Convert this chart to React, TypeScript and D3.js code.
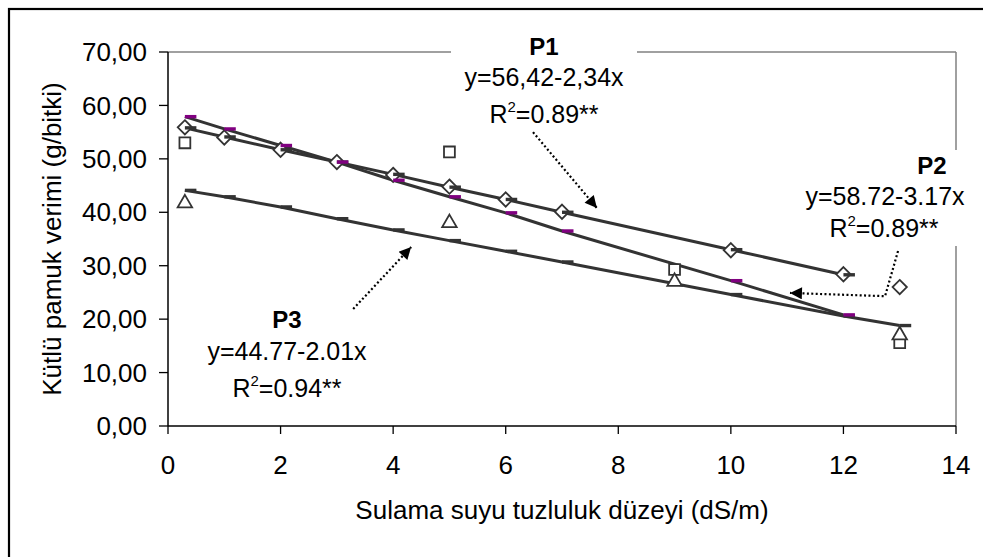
import React from "react";
import * as d3 from "d3";

// ---- data ----
const xTicks = [0, 2, 4, 6, 8, 10, 12, 14];
const yTicks = [0, 10, 20, 30, 40, 50, 60, 70];

// observed points
const p1X = [0.3, 1, 2, 3, 4, 5, 6, 7, 10, 12, 13];
const p1Obs = [55.9, 54.0, 51.7, 49.4, 47.0, 44.8, 42.4, 40.1, 32.9, 28.4, 26.0];
const p2X = [0.3, 5, 9, 13];
const p2Obs = [53.0, 51.3, 29.3, 15.6];
const p3X = [0.3, 5, 9, 13];
const p3Obs = [41.7, 38.0, 27.0, 17.0];

// regression (fitted) series with dash markers
const fitX12 = [0.3, 1, 2, 3, 4, 5, 6, 7, 10, 12];
const p1Fit = [55.8, 54.1, 51.7, 49.4, 47.1, 44.7, 42.4, 40.0, 33.0, 28.3];
const p2Fit = [57.9, 55.6, 52.5, 49.4, 46.0, 42.9, 39.9, 36.5, 27.2, 20.8];
const fitX3 = [0.3, 1, 2, 3, 4, 5, 6, 7, 10, 12, 13];
const p3Fit = [44.1, 42.9, 41.0, 38.8, 36.7, 34.7, 32.7, 30.7, 24.6, 20.6, 18.8];

const FONT = "'Liberation Sans', Arial, sans-serif";
const LINE = "#333333";

export default function App() {
  const x = d3.scaleLinear().domain([0, 14]).range([168, 956]);
  const y = d3.scaleLinear().domain([0, 70]).range([426, 52]);
  const fmt = d3.formatLocale({ decimal: ",", thousands: ".", grouping: [3], currency: ["", ""] }).format(".2f");

  const line = d3
    .line<[number, number]>()
    .x((d) => x(d[0]))
    .y((d) => y(d[1]));

  const zip = (xs: number[], ys: number[]) => xs.map((v, i) => [v, ys[i]] as [number, number]);

  const diamond = d3.symbol().type(d3.symbolDiamond2).size(130)();
  const square = d3.symbol().type(d3.symbolSquare2).size(150)();
  const triangle = d3.symbol().type(d3.symbolTriangle2).size(150)();

  const dashes = (xs: number[], ys: number[], color: string, key: string) =>
    xs.map((v, i) => (
      <rect key={key + i} x={x(v)} y={y(ys[i]) - 1.7} width={11.5} height={3.4} fill={color} />
    ));

  const arrowPath = (pts: [number, number][]) => line(pts) as string;

  return (
    <svg
      width={983}
      height={557}
      style={{ position: "absolute", left: 0, top: 0, background: "#fff" }}
      fontFamily={FONT}
    >
      <defs>
        <marker id="ah" viewBox="0 0 10 10" refX="10" refY="5" markerWidth="16" markerHeight="12" markerUnits="userSpaceOnUse" orient="auto">
          <path d="M0,0 L10,5 L0,10 Z" fill="#000" />
        </marker>
      </defs>
      <rect x={0} y={0} width={983} height={557} fill="#fff" />
      {/* outer chart frame */}
      <rect x={9} y={9} width={1000} height={600} fill="none" stroke="#000" strokeWidth={2.2} />

      {/* plot border top/right (gray) */}
      <line x1={x(0)} x2={x(14)} y1={y(70)} y2={y(70)} stroke="#808080" strokeWidth={1.5} />
      <line x1={x(14)} x2={x(14)} y1={y(70)} y2={y(0)} stroke="#808080" strokeWidth={1.5} />

      {/* axes */}
      <line x1={x(0)} x2={x(0)} y1={y(70)} y2={y(0)} stroke="#000" strokeWidth={1.5} />
      <line x1={x(0)} x2={x(14)} y1={y(0)} y2={y(0)} stroke="#000" strokeWidth={1.5} />
      {yTicks.map((t) => (
        <g key={"yt" + t}>
          <line x1={x(0) - 9} x2={x(0)} y1={y(t)} y2={y(t)} stroke="#000" strokeWidth={1.3} />
          <text x={147} y={y(t)} dy="0.35em" textAnchor="end" fontSize={26} fill="#000">
            {fmt(t)}
          </text>
        </g>
      ))}
      {xTicks.map((t) => (
        <g key={"xt" + t}>
          <line x1={x(t)} x2={x(t)} y1={y(0)} y2={y(0) + 8} stroke="#000" strokeWidth={1.3} />
          <text x={x(t)} y={474} textAnchor="middle" fontSize={26} fill="#000">
            {t}
          </text>
        </g>
      ))}
      <text x={(x(0) + x(14)) / 2} y={519} textAnchor="middle" fontSize={26} fill="#000">
        Sulama suyu tuzluluk düzeyi (dS/m)
      </text>
      <text transform={`translate(61,${(y(0) + y(70)) / 2}) rotate(-90)`} textAnchor="middle" fontSize={26} fill="#000">
        Kütlü pamuk verimi (g/bitki)
      </text>

      {/* fitted lines */}
      <path d={line(zip(fitX12, p1Fit)) as string} fill="none" stroke={LINE} strokeWidth={3} />
      <path d={line(zip(fitX12, p2Fit)) as string} fill="none" stroke={LINE} strokeWidth={3} />
      <path d={line(zip(fitX3, p3Fit)) as string} fill="none" stroke={LINE} strokeWidth={3} />

      {/* observed markers */}
      {p1X.map((v, i) => (
        <path key={"d" + i} d={diamond as string} transform={`translate(${x(v)},${y(p1Obs[i])})`} fill="#fff" stroke={LINE} strokeWidth={1.8} />
      ))}
      {p2X.map((v, i) => (
        <path key={"s" + i} d={square as string} transform={`translate(${x(v)},${y(p2Obs[i])})`} fill="#fff" stroke={LINE} strokeWidth={1.8} />
      ))}
      {p3X.map((v, i) => (
        <path key={"t" + i} d={triangle as string} transform={`translate(${x(v)},${y(p3Obs[i])})`} fill="#fff" stroke={LINE} strokeWidth={1.8} />
      ))}

      {/* dash markers of the fitted series */}
      {dashes(fitX3, p3Fit, LINE, "c")}
      {dashes(fitX12, p1Fit, LINE, "a")}
      {dashes(fitX12, p2Fit, "#800080", "b")}

      {/* P1 label */}
      <rect x={451} y={40} width={186} height={90} fill="#fff" />
      <text x={544} y={55} textAnchor="middle" fontSize={24} fontWeight="bold">P1</text>
      <text x={544} y={86} textAnchor="middle" fontSize={25}>y=56,42-2,34x</text>
      <text x={544} y={123} textAnchor="middle" fontSize={25}>
        R<tspan fontSize={15} dy={-11}>2</tspan><tspan dy={11}>=0.89**</tspan>
      </text>

      {/* P2 label */}
      <rect x={800} y={150} width={175} height={96} fill="#fff" />
      <text x={932} y={174} textAnchor="middle" fontSize={24} fontWeight="bold">P2</text>
      <text x={885} y={205} textAnchor="middle" fontSize={25}>y=58.72-3.17x</text>
      <text x={884} y={237} textAnchor="middle" fontSize={25}>
        R<tspan fontSize={15} dy={-11}>2</tspan><tspan dy={11}>=0.89**</tspan>
      </text>

      {/* P3 label */}
      <text x={287} y={328} textAnchor="middle" fontSize={24} fontWeight="bold">P3</text>
      <text x={287} y={360} textAnchor="middle" fontSize={25}>y=44.77-2.01x</text>
      <text x={287} y={397} textAnchor="middle" fontSize={25}>
        R<tspan fontSize={15} dy={-11}>2</tspan><tspan dy={11}>=0.94**</tspan>
      </text>

      {/* dotted arrows */}
      <path d={arrowPath([[6.485, 55.0], [7.62, 40.8]])} fill="none" stroke="#000" strokeWidth={2.2} strokeDasharray="2 2.4" markerEnd="url(#ah)" />
      <path d={arrowPath([[12.97, 32.75], [12.74, 24.3], [11.05, 24.9]])} fill="none" stroke="#000" strokeWidth={2.2} strokeDasharray="2 2.4" markerEnd="url(#ah)" />
      <path d={arrowPath([[3.29, 21.9], [4.32, 33.5]])} fill="none" stroke="#000" strokeWidth={2.2} strokeDasharray="2 2.4" markerEnd="url(#ah)" />
    </svg>
  );
}
